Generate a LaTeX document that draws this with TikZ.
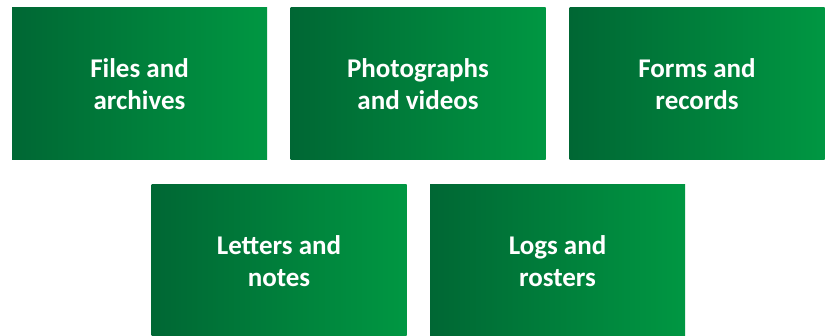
\documentclass[tikz,border=0pt]{standalone}
\usepackage{fontspec}
\setmainfont{Carlito}
\usepackage{tikz}
\usetikzlibrary{positioning}
\definecolor{leafdark}{RGB}{0,103,52}
\definecolor{leaflight}{RGB}{0,151,66}
\tikzset{
  tile/.style={rectangle,inner sep=0pt,minimum width=255pt,minimum height=152pt,
    left color=leafdark,right color=leaflight,draw=none,
    text=white,align=center,
    font=\fontsize{27}{32}\selectfont\bfseries}
}
\begin{document}
\begin{tikzpicture}[x=1pt,y=-1pt]
  \useasboundingbox (0,0) rectangle (829,336);
  % Top row
  \node[tile] (files) at (139.5,84) {Files and\\archives};
  \node[tile] (photos) at (418,84) {Photographs\\and videos};
  \node[tile] (forms) at (697,84) {Forms and\\records};
  % Bottom row
  \node[tile] (letters) at (279,261) {Letters and\\notes};
  \node[tile] (logs) at (557.5,261) {Logs and\\rosters};
\end{tikzpicture}
\end{document}
